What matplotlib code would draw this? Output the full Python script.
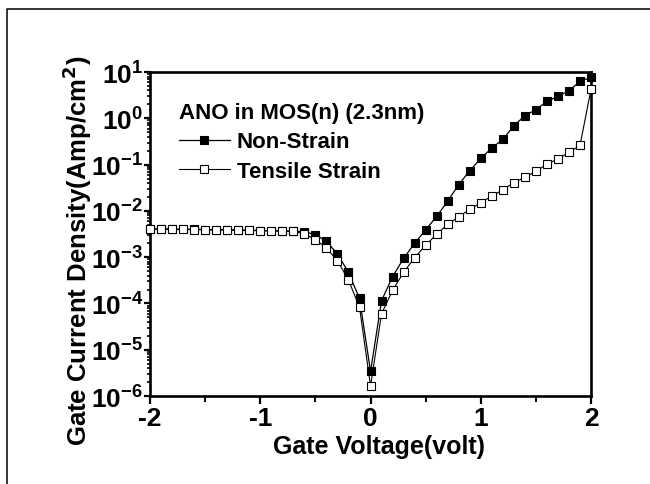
import numpy as np
import matplotlib
matplotlib.use("Agg")
import matplotlib.pyplot as plt
from matplotlib.lines import Line2D
from matplotlib.ticker import LogLocator, FixedLocator, NullFormatter

plt.rcParams['font.family'] = ['Liberation Sans', 'DejaVu Sans']
plt.rcParams['font.weight'] = 'bold'
plt.rcParams['mathtext.default'] = 'bf'

# Gate voltage sweep (V)
voltage = np.round(np.arange(-2.0, 2.0001, 0.1), 1)

# Gate current density (A/cm^2)
non_strain = [
    4.1e-3, 4.1e-3, 4.05e-3, 4.0e-3, 4.0e-3, 3.95e-3, 3.9e-3, 3.9e-3,
    3.85e-3, 3.8e-3, 3.75e-3, 3.7e-3, 3.7e-3, 3.65e-3,
    3.55e-3, 3.06e-3, 2.2e-3, 1.17e-3, 4.7e-4, 1.28e-4,
    3.4e-6,
    1.15e-4, 3.8e-4, 9.4e-4, 2.0e-3, 3.9e-3, 7.6e-3, 1.63e-2, 3.7e-2,
    7.4e-2, 1.36e-1, 2.29e-1, 3.5e-1, 6.9e-1, 1.14, 1.54, 2.32, 2.98,
    3.95, 6.3, 7.7,
]
tensile_strain = [
    4.07e-3, 4.05e-3, 4.02e-3, 3.98e-3, 3.95e-3, 3.93e-3, 3.9e-3, 3.87e-3,
    3.84e-3, 3.8e-3, 3.76e-3, 3.72e-3, 3.67e-3, 3.62e-3,
    3.2e-3, 2.4e-3, 1.58e-3, 8.4e-4, 3.2e-4, 8.3e-5,
    1.65e-6,
    6.0e-5, 1.92e-4, 4.7e-4, 9.8e-4, 1.8e-3, 3.15e-3, 5.1e-3, 7.5e-3,
    1.08e-2, 1.5e-2, 2.1e-2, 2.83e-2, 4.1e-2, 5.3e-2, 7.2e-2, 1.02e-1,
    1.33e-1, 1.84e-1, 2.6e-1, 4.3,
]

legend_title = "ANO in MOS(n) (2.3nm)"
series_labels = ["Non-Strain", "Tensile Strain"]
x_ticks = [-2, -1, 0, 1, 2]

fig = plt.figure(figsize=(6.5, 4.85), dpi=100)
ax = fig.add_axes([0.2308, 0.1814, 0.6785, 0.668])

ax.semilogy(voltage, non_strain, '-s', color='black', lw=0.9,
            ms=5.4, mfc='black', mec='black', mew=0.8,
            label=series_labels[0], clip_on=False, zorder=3)
ax.semilogy(voltage, tensile_strain, '-s', color='black', lw=0.8,
            ms=5.4, mfc='white', mec='black', mew=0.8,
            label=series_labels[1], clip_on=False, zorder=4)

ax.set_xlim(-2, 2)
ax.set_ylim(1e-6, 10)

ax.xaxis.set_major_locator(FixedLocator(x_ticks))
ax.xaxis.set_minor_locator(FixedLocator([-1.5, -0.5, 0.5, 1.5]))
ax.set_xticklabels([str(t) for t in x_ticks])
ax.yaxis.set_major_locator(LogLocator(base=10, numticks=20))
ax.yaxis.set_minor_locator(LogLocator(base=10, subs=np.arange(2, 10), numticks=20))
ax.yaxis.set_minor_formatter(NullFormatter())

for side in ['top', 'right', 'bottom', 'left']:
    ax.spines[side].set_linewidth(1.9)

ax.tick_params(axis='x', which='major', direction='out', length=5.5, width=1.6,
               labelsize=19, pad=1.5, top=False)
ax.tick_params(axis='x', which='minor', direction='out', length=4, width=1.4, top=False)
ax.tick_params(axis='y', which='major', direction='out', length=4, width=1.6,
               labelsize=19, pad=1, right=False)
ax.tick_params(axis='y', which='minor', direction='out', length=2.5, width=1.2, right=False)
for lbl in ax.get_xticklabels() + ax.get_yticklabels():
    lbl.set_fontweight('bold')

ax.set_xlabel("Gate Voltage(volt)", fontsize=18, fontweight='bold')
ax.xaxis.set_label_coords(0.52, -0.118)
ax.xaxis.label.set_va('top')
ax.set_ylabel(r"Gate Current Density(Amp/cm$^{2}$)", fontsize=18.5, fontweight='bold')
ax.yaxis.set_label_coords(-0.128, 0.45)

leg = ax.legend(title=legend_title, loc='upper left', bbox_to_anchor=(0.045, 0.935),
                frameon=False, fontsize=16, title_fontproperties={'size': 16, 'weight': 'bold'},
                handlelength=2.3, handletextpad=0.3, labelspacing=0.38,
                borderaxespad=0, alignment='left')
for t in leg.get_texts():
    t.set_fontweight('bold')

# Partial page frame (top and left edges)
fig.add_artist(Line2D([7 / 650, 7 / 650, 1.0], [0.0, 1 - 10 / 485, 1 - 10 / 485],
                      transform=fig.transFigure, color='black', lw=1.1))

fig.savefig("out.png", dpi=100)
